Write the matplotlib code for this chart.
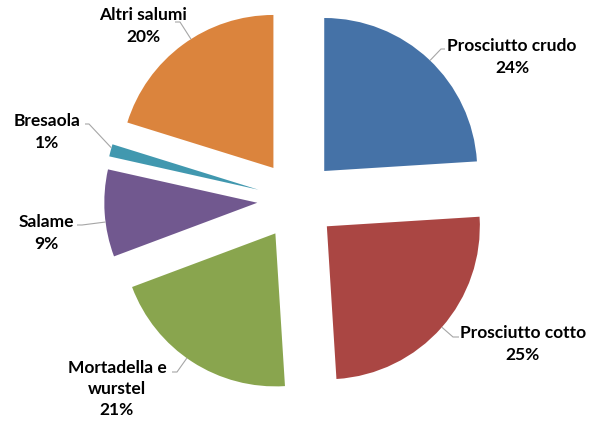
import numpy as np
import matplotlib
matplotlib.use('Agg')
import matplotlib.pyplot as plt

categories = ['Prosciutto crudo', 'Prosciutto cotto', 'Mortadella e\nwurstel',
              'Salame', 'Bresaola', 'Altri salumi']
# slice sizes as measured from the wedge angles
shares = [24.0, 25.0, 20.3, 9.2, 1.3, 20.2]
# percentages as printed on the chart
pct_labels = ['24%', '25%', '21%', '9%', '1%', '20%']
colors = ['#4572A7', '#AA4643', '#89A54E', '#71588F', '#4198AF', '#DB843D']

# label block centres and leader "knee" points, in pixels (y down)
label_pos = [(512, 57), (523, 344), (117, 389), (46, 233), (47, 132), (143, 26)]
knee_pos = [(441, 49), (453, 337), (177, 372), (82, 225), (89, 124), (180, 22)]
start_pos = [(445, 49), (459, 337), (172, 372), (77, 225), (85, 124), (175, 22)]

W, H = 602, 423
R = 153.0
CX, CY = 297, 200


def to_data(p):
    return ((p[0] - CX) / R, (CY - p[1]) / R)


def main():
    fig = plt.figure(figsize=(W / 100, H / 100), dpi=100)
    ax = fig.add_axes([0, 0, 1, 1])
    ax.axis('off')

    wedges, _ = ax.pie(shares, colors=colors, startangle=90, counterclock=False,
                       explode=[0.26] * len(shares), radius=1,
                       wedgeprops=dict(linewidth=0))
    ax.set_xlim(-CX / R, (W - CX) / R)
    ax.set_ylim(-(H - CY) / R, CY / R)
    ax.set_aspect('auto')

    for w, cat, lab, lp, kp, sp in zip(wedges, categories, pct_labels,
                                       label_pos, knee_pos, start_pos):
        cx, cy = w.center
        kx, ky = to_data(kp)
        ang = np.degrees(np.arctan2(ky - cy, kx - cx))
        t1, t2 = w.theta1, w.theta2
        span = t2 - t1
        # bring the angle into the wedge range
        while ang < t1 - 180:
            ang += 360
        while ang > t2 + 180:
            ang -= 360
        ang = min(max(ang, t1 + 0.3 * span), t2 - 0.3 * span)
        ex = cx + w.r * np.cos(np.radians(ang))
        ey = cy + w.r * np.sin(np.radians(ang))
        sx, sy = to_data(sp)
        ax.plot([sx, kx, ex], [sy, ky, ey], color='#a6a6a6', lw=0.8,
                solid_capstyle='butt', zorder=3)
        tx, ty = to_data(lp)
        ax.text(tx, ty, f"{cat}\n{lab}", ha='center', va='center',
                fontsize=12.5, fontweight='bold', family=['Lato', 'DejaVu Sans'],
                color='black', linespacing=1.4)

    fig.savefig('out.png', dpi=100)


if __name__ == '__main__':
    main()
